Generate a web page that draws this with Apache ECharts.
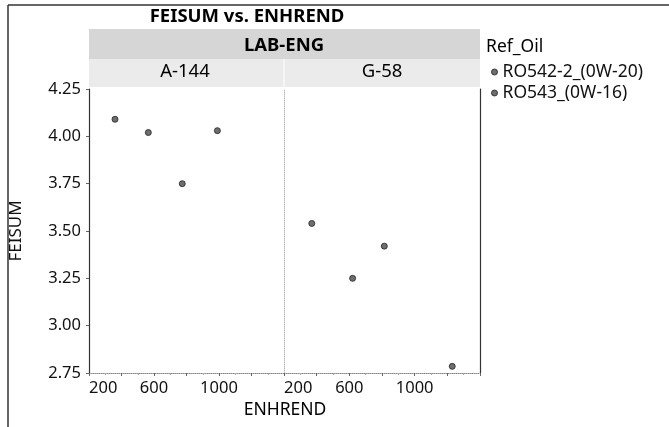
<!DOCTYPE html>
<html>
<head>
<meta charset="utf-8">
<script src="https://cdn.jsdelivr.net/npm/echarts@6/dist/echarts.min.js"></script>
<style>html,body{margin:0;padding:0;background:#fff}#c{width:669px;height:427px}</style>
</head>
<body>
<div id="c"></div>
<script>
// ---- data ----
const panels = ['A-144', 'G-58'];
const seriesNames = ['RO542-2_(0W-20)', 'RO543_(0W-16)'];
// [ENHREND, FEISUM] per panel per series
const a144_ro542 = [[360, 4.09], [774, 3.75]];
const a144_ro543 = [[565, 4.02], [990, 4.03]];
const g58_ro542 = [[370, 3.54], [814, 3.42]];
const g58_ro543 = [[620, 3.25], [1230, 2.785]];
const xTickLabels = [200, 600, 1000];
const yMin = 2.75, yMax = 4.25, yStep = 0.25;
const xMin = 200, xMax = 1400, xStep = 200;

const FONT = 'Noto Sans';
const chart = echarts.init(document.getElementById('c'));

const gridTop = 89, gridBottom = 427 - 373;
const grids = [
  {left: 89, width: 195, top: gridTop, bottom: gridBottom},
  {left: 284, width: 196, top: gridTop, bottom: gridBottom}
];

function xAxisFor(i) {
  return {
    type: 'value', gridIndex: i, min: xMin, max: xMax, interval: xStep,
    axisLine: {show: true, lineStyle: {color: '#888', type: 'dotted', width: 1}},
    axisTick: {show: true, length: 3, lineStyle: {color: '#666'}},
    minorTick: {show: true, splitNumber: 2, length: 2, lineStyle: {color: '#aaa'}},
    splitLine: {show: false},
    axisLabel: {customValues: xTickLabels, fontFamily: FONT, fontSize: 16.5, color: '#111', margin: 7,
      alignMinLabel: 'left', formatter: v => String(v)}
  };
}
function yAxisFor(i) {
  const base = {
    type: 'value', gridIndex: i, min: yMin, max: yMax, interval: yStep,
    splitLine: {show: false}
  };
  if (i === 0) {
    return Object.assign(base, {
      name: 'FEISUM', nameLocation: 'middle', nameGap: 64,
      nameTextStyle: {fontFamily: FONT, fontSize: 17, color: '#111'},
      axisLine: {show: true, lineStyle: {color: '#333', width: 1.2}},
      axisTick: {show: true, length: 3, lineStyle: {color: '#666'}},
      axisLabel: {fontFamily: FONT, fontSize: 16.5, color: '#111', margin: 8,
        formatter: v => v.toFixed(2)}
    });
  }
  return Object.assign(base, {
    axisLine: {show: true, lineStyle: {color: '#bbb', type: 'dotted', width: 1}},
    axisTick: {show: false}, axisLabel: {show: false}
  });
}

const xAxes = [xAxisFor(0), xAxisFor(1)];
const yAxes = [yAxisFor(0), yAxisFor(1), {
  type: 'value', gridIndex: 1, min: yMin, max: yMax, position: 'right',
  axisLine: {show: true, lineStyle: {color: '#333', width: 1.2}},
  axisTick: {show: false}, axisLabel: {show: false}, splitLine: {show: false}
}];

const dotStyle = {color: '#4a4a4a', borderColor: '#222', borderWidth: 1};
function sc(name, data, gi) {
  return {
    name, type: 'scatter', xAxisIndex: gi, yAxisIndex: gi, data,
    symbol: 'circle', symbolSize: 6, itemStyle: dotStyle
  };
}

chart.setOption({
  animation: false,
  backgroundColor: '#fff',
  grid: grids,
  xAxis: xAxes,
  yAxis: yAxes,
  legend: {
    orient: 'vertical', left: 486, top: 58, itemGap: 3, padding: [5, 5, 5, 5],
    icon: 'circle', itemWidth: 6, itemHeight: 6,
    textStyle: {fontFamily: FONT, fontSize: 17.5, color: '#111'},
    itemStyle: dotStyle,
    data: seriesNames
  },
  graphic: [
    // outer frame lines
    {type: 'line', shape: {x1: 8, y1: 5, x2: 669, y2: 5}, style: {stroke: '#333', lineWidth: 1.5}, silent: true},
    {type: 'line', shape: {x1: 8, y1: 5, x2: 8, y2: 427}, style: {stroke: '#333', lineWidth: 1.5}, silent: true},
    // header bands
    {type: 'rect', shape: {x: 89, y: 29, width: 391, height: 30}, style: {fill: '#d6d6d6'}, silent: true, z: -1},
    {type: 'rect', shape: {x: 89, y: 59, width: 391, height: 28}, style: {fill: '#ebebeb'}, silent: true, z: -1},
    {type: 'line', shape: {x1: 284, y1: 59, x2: 284, y2: 87}, style: {stroke: '#fff', lineWidth: 1}, silent: true},
    // texts
    {type: 'text', x: 247, y: 17, style: {text: 'FEISUM vs. ENHREND', font: 'bold 18.5px ' + FONT, fill: '#000', align: 'center', verticalAlign: 'middle'}},
    {type: 'text', x: 284, y: 46, style: {text: 'LAB-ENG', font: 'bold 18.5px ' + FONT, fill: '#000', align: 'center', verticalAlign: 'middle'}},
    {type: 'text', x: 185, y: 72, style: {text: panels[0], font: '18.5px ' + FONT, fill: '#000', align: 'center', verticalAlign: 'middle'}},
    {type: 'text', x: 382, y: 72, style: {text: panels[1], font: '18.5px ' + FONT, fill: '#000', align: 'center', verticalAlign: 'middle'}},
    {type: 'text', x: 486, y: 47, style: {text: 'Ref_Oil', font: '17.5px ' + FONT, fill: '#000', align: 'left', verticalAlign: 'middle'}},
    {type: 'text', x: 285, y: 410, style: {text: 'ENHREND', font: '17.5px ' + FONT, fill: '#000', align: 'center', verticalAlign: 'middle'}}
  ],
  series: [
    sc(seriesNames[0], a144_ro542, 0),
    sc(seriesNames[1], a144_ro543, 0),
    sc(seriesNames[0], g58_ro542, 1),
    sc(seriesNames[1], g58_ro543, 1)
  ]
});
</script>
</body>
</html>
